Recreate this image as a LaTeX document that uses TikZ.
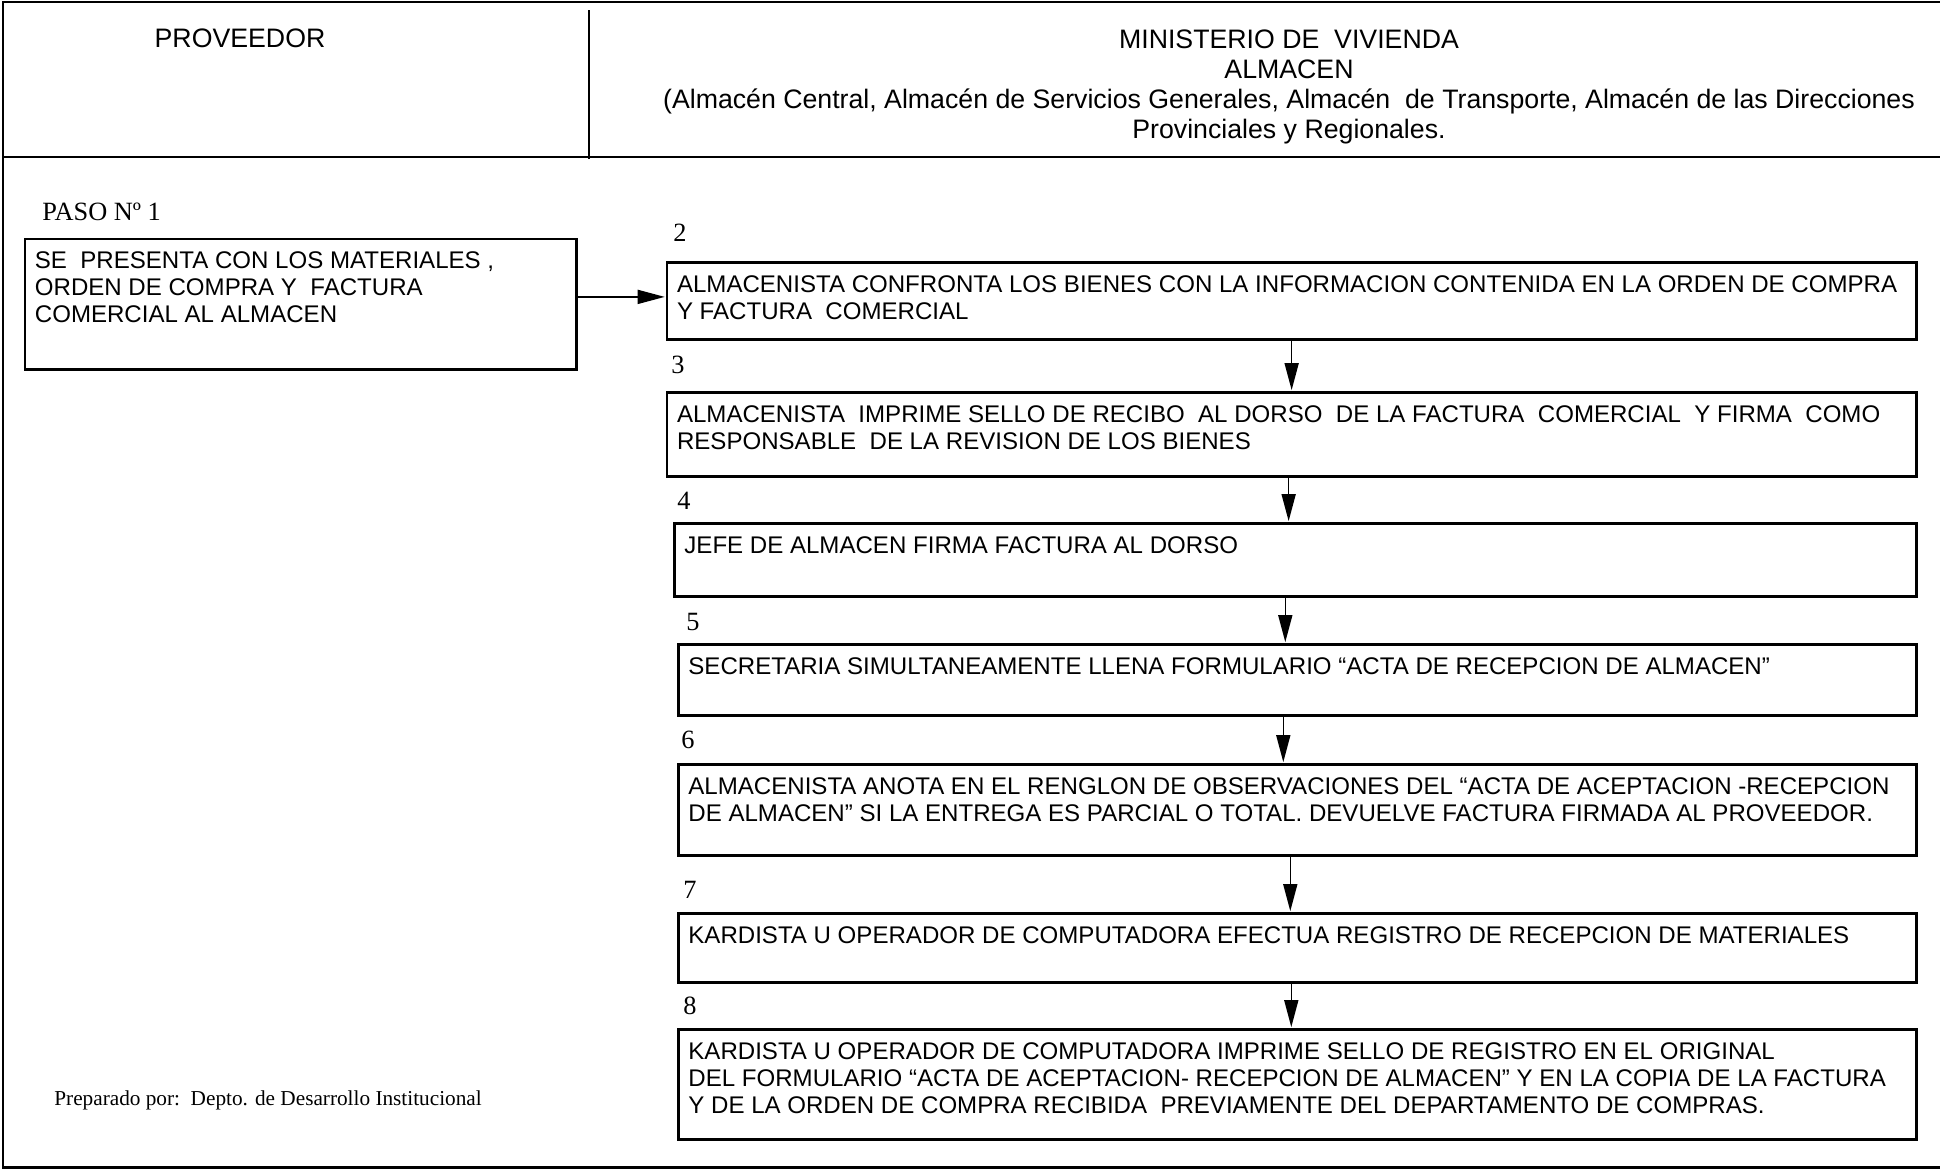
\documentclass[tikz,border=0pt]{standalone}
\usepackage{fontspec}
\setmainfont{Liberation Serif}
\newfontfamily\arial{Liberation Sans}
\usetikzlibrary{arrows.meta}

\newcommand{\fuentecaja}{\arial\fontsize{13.7}{15.35}\selectfont}
\newcommand{\fuentetitulo}{\arial\fontsize{15.2}{17.1}\selectfont}
\newcommand{\fuentenum}{\rmfamily\fontsize{15}{17}\selectfont}

\tikzset{
  caja/.style={draw, line width=1.6pt, anchor=north west, inner xsep=0.2cm, inner ysep=0.26cm, font=\fuentecaja},
  flecha/.style={line width=0.9pt, -{Triangle[length=0.54cm,width=0.28cm]}, shorten >=0.5pt},
  numero/.style={font=\fuentenum, inner sep=0pt},
  titulo/.style={font=\fuentetitulo, inner sep=0pt, align=center}
}

\begin{document}
\begin{tikzpicture}[x=0.02cm,y=-0.02cm]
\useasboundingbox (0,0) rectangle (1940,1170);

% Draw the frame and the header
\draw[line width=1.3pt] (1940,2) -- (3,2) -- (3,1167.5) -- (1940,1167.5);
\draw[line width=1.7pt] (3,157) -- (1940,157);
\draw[line width=1.1pt] (589,10) -- (589,159);

\node[titulo] (prov) at (240,38) {PROVEEDOR};
\node[titulo, anchor=north] (mvi) at (1289,29) {MINISTERIO DE\ \ VIVIENDA\\[0.2pt]
ALMACEN\\
(Almacén Central, Almacén de Servicios Generales, Almacén\ \ de Transporte, Almacén de las Direcciones\\
Provinciales y Regionales.};

% Draw the steps
\node[numero, anchor=west] (paso) at (42,212) {PASO Nº 1};
\node[caja] (b1) at (23.5,237.5) {\parbox[t][2.10cm][t]{10.63cm}{\raggedright
SE\ \ PRESENTA CON LOS MATERIALES ,\\
ORDEN DE COMPRA Y\ \ FACTURA\\
COMERCIAL AL ALMACEN}};

\node[numero] (n2) at (680,233) {2};
\node[caja] (b2) at (665.6,261) {\parbox[t][1.02cm][t]{24.59cm}{\raggedright
ALMACENISTA CONFRONTA LOS BIENES CON LA INFORMACION CONTENIDA EN LA ORDEN DE COMPRA\\
Y FACTURA\ \ COMERCIAL}};

\node[numero] (n3) at (678,365) {3};
\node[caja] (b3) at (665.6,391) {\parbox[t][1.16cm][t]{24.59cm}{\raggedright
ALMACENISTA\ \ IMPRIME SELLO DE RECIBO\ \ AL DORSO\ \ DE LA FACTURA\ \ COMERCIAL\ \ Y FIRMA\ \ COMO\\
RESPONSABLE\ \ DE LA REVISION DE LOS BIENES}};

\node[numero] (n4) at (684,501) {4};
\node[caja] (b4) at (673,522) {\parbox[t][0.94cm][t]{24.44cm}{\raggedright
JEFE DE ALMACEN FIRMA FACTURA AL DORSO}};

\node[numero] (n5) at (693,622) {5};
\node[caja] (b5) at (677,643) {\parbox[t][0.90cm][t]{24.36cm}{\raggedright
SECRETARIA SIMULTANEAMENTE LLENA FORMULARIO “ACTA DE RECEPCION DE ALMACEN”}};

\node[numero] (n6) at (688,740) {6};
\node[caja] (b6) at (677,763) {\parbox[t][1.30cm][t]{24.36cm}{\raggedright
ALMACENISTA ANOTA EN EL RENGLON DE OBSERVACIONES DEL “ACTA DE ACEPTACION -RECEPCION\\
DE ALMACEN” SI LA ENTREGA ES PARCIAL O TOTAL. DEVUELVE FACTURA FIRMADA AL PROVEEDOR.}};

\node[numero] (n7) at (690,890) {7};
\node[caja] (b7) at (677,912) {\parbox[t][0.86cm][t]{24.36cm}{\raggedright
KARDISTA U OPERADOR DE COMPUTADORA EFECTUA REGISTRO DE RECEPCION DE MATERIALES}};

\node[numero] (n8) at (690,1006) {8};
\node[caja] (b8) at (677,1028) {\parbox[t][1.68cm][t]{24.36cm}{\raggedright
KARDISTA U OPERADOR DE COMPUTADORA IMPRIME SELLO DE REGISTRO EN EL ORIGINAL\\
DEL FORMULARIO “ACTA DE ACEPTACION- RECEPCION DE ALMACEN” Y EN LA COPIA DE LA FACTURA\\
Y DE LA ORDEN DE COMPRA RECIBIDA\ \ PREVIAMENTE DEL DEPARTAMENTO DE COMPRAS.}};

\node[anchor=west, font=\fontsize{12.1}{14}\selectfont, inner sep=0pt] (prep) at (54,1100) {Preparado por:\ \ Depto. de Desarrollo Institucional};

% Draw the arrows
\draw[flecha] ([yshift=0.15cm]b1.east) -- ([yshift=0.15cm]b1.east -| b2.west);
\draw[flecha] (b2.south) -- (b2.south |- b3.north);
\draw[flecha] ([xshift=-0.06cm]b3.south) -- ([xshift=-0.06cm]b3.south |- b4.north);
\draw[flecha] ([xshift=-0.2cm]b4.south) -- ([xshift=-0.2cm]b4.south |- b5.north);
\draw[flecha] ([xshift=-0.28cm]b5.south) -- ([xshift=-0.28cm]b5.south |- b6.north);
\draw[flecha] ([xshift=-0.14cm]b6.south) -- ([xshift=-0.14cm]b6.south |- b7.north);
\draw[flecha] ([xshift=-0.12cm]b7.south) -- ([xshift=-0.12cm]b7.south |- b8.north);

\end{tikzpicture}
\end{document}
